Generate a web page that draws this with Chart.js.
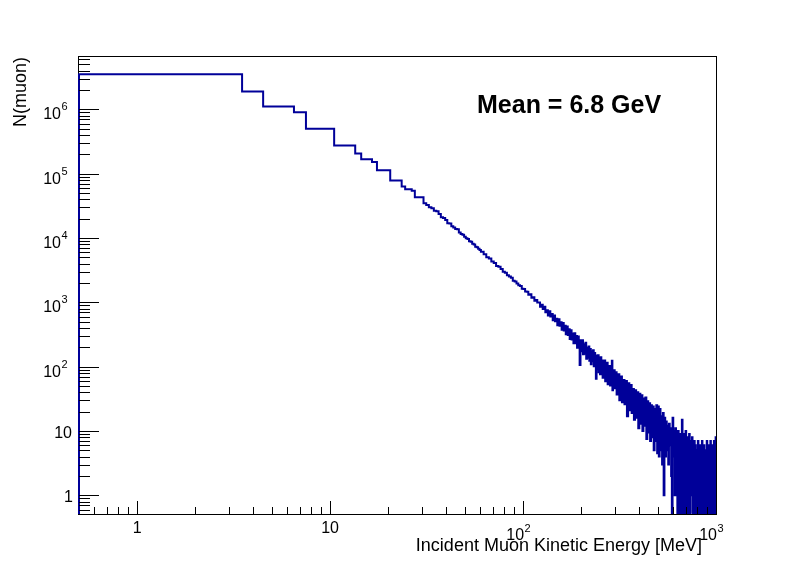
<!DOCTYPE html>
<html>
<head>
<meta charset="utf-8">
<script src="https://cdn.jsdelivr.net/npm/chart.js@4.4.1/dist/chart.umd.min.js"></script>
<style>
  html, body { margin: 0; padding: 0; background: #fff; }
  #wrap { width: 796px; height: 572px; }
</style>
</head>
<body>
<div id="wrap"><canvas id="muonChart" width="796" height="572"></canvas></div>
<script>
// Histogram of incident muon kinetic energy.
// Low-energy bins are wide plateaus; the tail is kept in fixed-width groups.
const lowEdges = [0.5, 3.5, 4.5, 6.5, 7.5, 10.5, 13.5, 14.5, 16.5, 17.5, 20.5, 23.5, 24.5, 26.5, 27.5, 30.5];
const lowCounts = [3.5e6, 1.89e6, 1.11e6, 9.0e5, 5.0e5, 2.73e5, 2.05e5, 1.68e5, 1.51e5, 1.13e5, 7.8e4, 6.3e4, 5.7e4, 5.4e4, 4.3e4];

// 30.5 - 60.5, 1 GeV wide
const counts1GeV = [
  34500, 32500, 30000, 29000, 26500, 26000, 23500, 21000, 20500, 19000,
  17000, 16800, 15200, 14500, 13800, 13600, 12200, 11500, 11200, 10400,
  9900, 9600, 8900, 8700, 8100, 7900, 7300, 7200, 6800, 6500
];
// 60.5 - 300.5, 2 GeV wide
const counts2GeV = [
  6100, 5600, 5020, 4800, 4300, 4090, 3660, 3560, 3300, 2980,
  2880, 2640, 2510, 2400, 2170, 2110, 1960, 1840, 1790, 1620,
  1610, 1470, 1460, 1310, 1330, 1180, 1200, 1060, 1090, 990,
  994, 850, 916, 785, 853, 703, 753, 625, 726, 601,
  656, 524, 624, 507, 557, 439, 545, 431, 488, 375,
  476, 366, 431, 318, 420, 310, 381, 270, 369, 264,
  327, 230, 329, 230, 298, 197, 294, 200, 106, 258,
  174, 257, 156, 223, 158, 235, 132, 196, 138, 205,
  123, 188, 109, 174, 121, 179, 101, 163, 104, 65,
  149, 91, 150, 82, 131, 76, 140, 81, 125, 67,
  123, 70, 124, 59, 107, 67, 115, 53, 102, 57,
  102, 51, 92, 54, 123, 43, 88, 47, 88, 46
];
// 300.5 - 1000.5, 5 GeV wide
const counts5GeV = [
  82, 37, 76, 30, 70, 28, 62, 26, 60, 17,
  55, 21, 52, 19, 45, 15, 43, 16, 40, 11,
  38, 13, 36, 10, 32, 12, 33, 7.5, 29, 9.5,
  27, 7, 25, 8, 24, 5, 22, 7, 25, 4.5,
  24, 4, 22, 5, 17, 3, 19, 1, 16, 4,
  14, 5, 12, 3, 13, 6, 11, 2, 0, 16,
  4, 10, 1, 11, 3, 9, 0, 10, 2, 8,
  0, 9, 1, 15, 0, 7, 0, 9, 2, 10,
  0, 8, 1, 6, 0, 9, 0, 7, 1, 5,
  8, 0, 6, 0, 7, 1, 6, 0, 0, 5,
  0, 7, 0, 4, 0, 6, 1, 5, 0, 7,
  0, 4, 0, 6, 0, 3, 0, 5, 1, 7,
  0, 4, 0, 6, 0, 3, 0, 7, 0, 5,
  0, 6, 0, 4, 0, 7, 1, 6, 0, 8
];

const segments = [
  { start: 30.5, width: 1, counts: counts1GeV },
  { start: 60.5, width: 2, counts: counts2GeV },
  { start: 300.5, width: 5, counts: counts5GeV }
];

const xTickValues = [1, 10, 100, 1000];
const yTickValues = [1, 10, 100, 1e3, 1e4, 1e5, 1e6];

const xRange = [0.5, 1000];
const yRange = [0.512, 6.5e6];
const FLOOR = 0.1; // empty bins drop below the frame, like ROOT does

const FONT = '"Liberation Sans", Arial, Helvetica, sans-serif';

// step points: one per bin lower edge, closed at both ends
function buildPoints() {
  const edges = lowEdges.slice();
  const counts = lowCounts.slice();
  segments.forEach(seg => {
    seg.counts.forEach((c, i) => {
      counts.push(c);
      edges.push(seg.start + (i + 1) * seg.width);
    });
  });
  const pts = [{ x: edges[0], y: FLOOR }];
  counts.forEach((c, i) => pts.push({ x: edges[i], y: Math.max(c, FLOOR) }));
  const last = edges[edges.length - 1];
  pts.push({ x: last, y: Math.max(counts[counts.length - 1], FLOOR) });
  pts.push({ x: last, y: FLOOR });
  return pts;
}

function drawTickLabel(ctx, v, px, py, axis) {
  const exp = Math.round(Math.log10(v));
  ctx.fillStyle = '#000';
  ctx.font = '16px ' + FONT;
  if (exp <= 1) {
    ctx.textAlign = axis === 'y' ? 'right' : 'center';
    ctx.fillText(exp === 0 ? '1' : '10', px, axis === 'y' ? py + 7 : py);
    return;
  }
  // "10" with a raised exponent
  ctx.textAlign = 'right';
  ctx.fillText('10', px, py + (axis === 'y' ? 10 : 0));
  ctx.font = '11px ' + FONT;
  ctx.textAlign = 'left';
  ctx.fillText(String(exp), px + 0.5, py + (axis === 'y' ? 1 : -8));
}

const rootFrame = {
  id: 'rootFrame',
  beforeDatasetsDraw(chart) {
    const { ctx, chartArea: a } = chart;
    ctx.save();
    ctx.strokeStyle = '#000';
    ctx.lineWidth = 1;
    ctx.strokeRect(a.left - 0.5, a.top - 0.5, a.right - a.left + 1, a.bottom - a.top + 1);
    ctx.restore();
  },
  afterDatasetsDraw(chart) {
    const { ctx, chartArea: a, scales: { x, y } } = chart;
    ctx.save();
    ctx.strokeStyle = '#000';
    ctx.lineWidth = 1;
    ctx.beginPath();
    for (let e = -1; e <= 7; e++) {
      for (let m = 1; m <= 9; m++) {
        const v = m * Math.pow(10, e);
        if (v < yRange[0] || v > yRange[1]) continue;
        const py = Math.round(y.getPixelForValue(v)) + 0.5;
        ctx.moveTo(a.left, py);
        ctx.lineTo(a.left + (m === 1 ? 20 : 11), py);
      }
    }
    for (let e = -1; e <= 3; e++) {
      for (let m = 1; m <= 9; m++) {
        const v = m * Math.pow(10, e);
        if (v < xRange[0] * 1.001 || v > xRange[1] * 0.999) continue;
        const px = Math.round(x.getPixelForValue(v)) + 0.5;
        ctx.moveTo(px, a.bottom);
        ctx.lineTo(px, a.bottom - (m === 1 ? 13 : 7));
      }
    }
    ctx.stroke();

    ctx.textBaseline = 'alphabetic';
    yTickValues.forEach(v => {
      const py = y.getPixelForValue(v);
      const exp = Math.round(Math.log10(v));
      const right = exp === 0 ? a.left - 6 : exp === 1 ? a.left - 7 : a.left - 18;
      drawTickLabel(ctx, v, right, py, 'y');
    });
    xTickValues.forEach(v => {
      const px = x.getPixelForValue(v);
      const exp = Math.round(Math.log10(v));
      if (exp <= 1) drawTickLabel(ctx, v, px, a.bottom + 19, 'x');
      else drawTickLabel(ctx, v, px + 1, a.bottom + 26, 'x');
    });

    // axis titles, ROOT style: right-aligned at the axis end
    ctx.fillStyle = '#000';
    ctx.font = '18px ' + FONT;
    ctx.textAlign = 'right';
    ctx.fillText('Incident Muon Kinetic Energy [MeV]', 702, 551);
    ctx.save();
    ctx.translate(26, a.top);
    ctx.rotate(-Math.PI / 2);
    ctx.textAlign = 'right';
    ctx.fillText('N(muon)', 0, 0);
    ctx.restore();

    ctx.font = 'bold 25px ' + FONT;
    ctx.textAlign = 'left';
    ctx.fillText('Mean = 6.8 GeV', 477, 113);
    ctx.restore();
  }
};

const chart = new Chart(document.getElementById('muonChart').getContext('2d'), {
  type: 'line',
  data: {
    datasets: [{
      data: buildPoints(),
      stepped: true,
      borderColor: '#000099',
      borderWidth: 2,
      borderJoinStyle: 'miter',
      pointRadius: 0,
      fill: false,
      tension: 0,
      clip: { left: 2, top: 0, right: 0, bottom: 0 }
    }]
  },
  options: {
    responsive: false,
    animation: false,
    layout: { padding: { left: 79, right: 80, top: 57, bottom: 58 } },
    plugins: { legend: { display: false }, tooltip: { enabled: false } },
    scales: {
      x: { type: 'logarithmic', min: xRange[0], max: xRange[1], display: false },
      y: { type: 'logarithmic', min: yRange[0], max: yRange[1], display: false }
    }
  },
  plugins: [rootFrame]
});
</script>
</body>
</html>
